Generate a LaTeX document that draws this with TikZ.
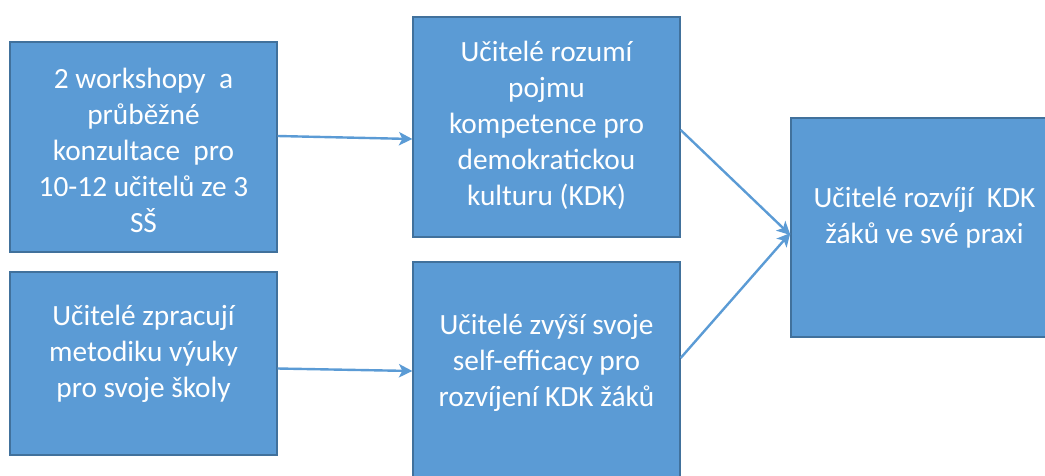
\documentclass[tikz,border=0pt]{standalone}
\usepackage{fontspec}
\setmainfont{Carlito}
\usetikzlibrary{arrows.meta,calc}
\newcommand{\PX}{0.75pt}
\newcommand{\BOXW}{267}
\newcommand{\LINEPT}{1.8pt}
\definecolor{boxblue}{RGB}{91,155,213}
\definecolor{edgeblue}{RGB}{65,113,156}
\tikzset{
	stepbox/.style={draw=edgeblue,fill=boxblue,line width=1pt,rectangle,inner sep=0pt,minimum width=\BOXW*\PX},
	steptext/.style={text=white,align=center,inner sep=0pt,font=\fontsize{22pt}{27pt}\selectfont},
	steparrow/.style={color=boxblue,line width=\LINEPT,-{Stealth[length=10pt,width=10pt,inset=2.5pt]}}
}
\begin{document}
\begin{tikzpicture}[x=\PX,y=-\PX]
	
		\useasboundingbox (0,0) rectangle (1045,475);
		\clip (0,0) rectangle (1045,475);
		
		%%
		
		\coordinate (pA) at (143.5,147) ;
		\coordinate (pB) at (143.5,363.5) ;
		\coordinate (pC) at (546.5,127) ;
		\coordinate (pD) at (546.5,373.5) ;
		\coordinate (pE) at (924.5,227.5) ;
		
		\node[stepbox,minimum height=210*\PX] (boxA) at (pA) {};
		\node[stepbox,minimum height=183*\PX] (boxB) at (pB) {};
		\node[stepbox,minimum height=220*\PX] (boxC) at (pC) {};
		\node[stepbox,minimum height=223*\PX] (boxD) at (pD) {};
		\node[stepbox,minimum height=219*\PX] (boxE) at (pE) {};
		
		\node[steptext] (textA) at ($(pA)+(0,3)$) {2 workshopy\ \ a\\průběžné\\konzultace\ \ pro\\10-12 učitelů ze 3\\SŠ};
		\node[steptext] (textB) at ($(pB)+(0,-10)$) {Učitelé zpracují\\metodiku výuky\\pro svoje školy};
		\node[steptext] (textC) at ($(pC)+(0,-2)$) {Učitelé rozumí\\pojmu\\kompetence pro\\demokratickou\\kulturu (KDK)};
		\node[steptext] (textD) at ($(pD)+(0,-11)$) {Učitelé zvýší svoje\\self-efficacy pro\\rozvíjení KDK žáků};
		\node[steptext] (textE) at ($(pE)+(0,-10)$) {Učitelé rozvíjí\ \ KDK\\žáků ve své praxi};
		
		%%
		
		\draw[steparrow] ([yshift=11*\PX]boxA.east) -- ([yshift=-12*\PX]boxC.west);
		\draw[steparrow] ([yshift=-5*\PX]boxB.east) -- ([yshift=2.5*\PX]boxD.west);
		\draw[steparrow] ([yshift=-3*\PX]boxC.east) -- ([yshift=-7.5*\PX]boxE.west);
		\draw[steparrow] ([yshift=15.5*\PX]boxD.east) -- ([yshift=-5.5*\PX]boxE.west);
		
	\end{tikzpicture}
\end{document}
